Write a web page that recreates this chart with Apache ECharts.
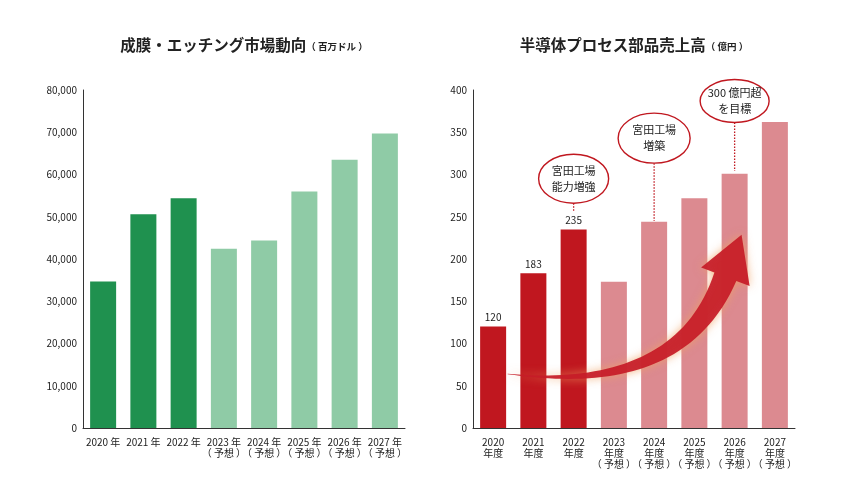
<!DOCTYPE html>
<html><head><meta charset="utf-8">
<script src="https://cdn.jsdelivr.net/npm/echarts@6/dist/echarts.min.js"></script>
<style>html,body{margin:0;padding:0;background:#fff}#c{width:854px;height:480px}</style>
</head><body><div id="c"></div>
<script>
// ---- data ----
const leftCategories = ['2020 年','2021 年','2022 年','2023 年\n（ 予想 ）','2024 年\n（ 予想 ）','2025 年\n（ 予想 ）','2026 年\n（ 予想 ）','2027 年\n（ 予想 ）'];
const marketValues = [34700, 50600, 54400, 42400, 44400, 56000, 63500, 69700];
const rightCategories = ['2020\n年度','2021\n年度','2022\n年度','2023\n年度\n（ 予想 ）','2024\n年度\n（ 予想 ）','2025\n年度\n（ 予想 ）','2026\n年度\n（ 予想 ）','2027\n年度\n（ 予想 ）'];
const salesValues = [120, 183, 235, 173, 244, 272, 301, 362];
const actualCount = 3;
const leftAxisMax = 80000, leftAxisStep = 10000;
const rightAxisMax = 400, rightAxisStep = 50;
const annotationTexts = ['宮田工場\n能力増強', '宮田工場\n増築', '300 億円超\nを目標'];

// ---- styling ----
const FONT = '"Noto Sans CJK JP","Noto Sans",sans-serif';
const C = { gDark:'#1f914f', gLight:'#8fcba6', rDark:'#c0171f', rLight:'#dc8a90', axis:'#333', text:'#222' };

const chart = echarts.init(document.getElementById('c'));
function yAxis(idx, max, step){
  return { type:'value', gridIndex:idx, min:0, max:max, interval:step,
    axisLine:{show:true, lineStyle:{color:C.axis, width:1}}, axisTick:{show:false}, splitLine:{show:false},
    axisLabel:{fontSize:10, color:C.text, margin:6, fontFamily:FONT} };
}
function xAxis(idx, cats){
  return { type:'category', gridIndex:idx, data:cats,
    axisLine:{show:true, lineStyle:{color:C.axis, width:1}}, axisTick:{show:false},
    axisLabel:{interval:0, fontSize:10, lineHeight:11, color:C.text, margin:9, fontFamily:FONT} };
}
chart.setOption({
  animation:false,
  textStyle:{fontFamily:FONT},
  title:[
    {text:'{a|成膜・エッチング市場動向}{b|（ 百万ドル ）}', left:244, top:37, textAlign:'center', padding:0,
     textStyle:{rich:{a:{fontSize:15.5, fontWeight:'bold', color:C.text, fontFamily:FONT}, b:{fontSize:9.5, color:C.text, fontFamily:FONT, padding:[3,0,0,0]}}}},
    {text:'{a|半導体プロセス部品売上高}{b|（ 億円 ）}', left:634, top:37, textAlign:'center', padding:0,
     textStyle:{rich:{a:{fontSize:15.5, fontWeight:'bold', color:C.text, fontFamily:FONT}, b:{fontSize:9.5, color:C.text, fontFamily:FONT, padding:[3,0,0,0]}}}}
  ],
  grid:[
    {left:83, top:90, width:322, height:338},
    {left:473, top:90, width:322, height:338}
  ],
  xAxis:[xAxis(0, leftCategories), xAxis(1, rightCategories)],
  yAxis:[yAxis(0, leftAxisMax, leftAxisStep), yAxis(1, rightAxisMax, rightAxisStep)],
  series:[
    {type:'bar', xAxisIndex:0, yAxisIndex:0, data:marketValues, barWidth:26,
     itemStyle:{color:p=>p.dataIndex<actualCount?C.gDark:C.gLight}},
    {type:'bar', xAxisIndex:1, yAxisIndex:1, data:salesValues, barWidth:26,
     itemStyle:{color:p=>p.dataIndex<actualCount?C.rDark:C.rLight},
     label:{show:true, position:'top', distance:4, fontSize:10, color:C.text, fontFamily:FONT,
       formatter:p=>p.dataIndex<actualCount?String(p.value):''}}
  ]
});

// ---- annotations (positioned through the right axis) ----
const ref = {seriesIndex:1};
const o = chart.convertToPixel(ref, [0, 0]);
const o1 = chart.convertToPixel(ref, [1, 100]);
const band = o1[0]-o[0], perVal = (o1[1]-o[1])/100;
const px = (i, v) => [o[0] + i*band, o[1] + v*perVal];

const ellipses = [
  {i:2, v:295, rx:35, ry:24.5, lineTo:256},
  {i:4, v:343, rx:36, ry:25, lineTo:245},
  {i:6, v:387, rx:34.5, ry:21.5, lineTo:304}
];
const g = [];
const A0 = px(0.36, 64), A1 = px(2.64, 51), A2 = px(4.88, 69), A3 = px(5.77, 179);
function bez(t){ const u=1-t; return [
  u*u*u*A0[0]+3*u*u*t*A1[0]+3*u*t*t*A2[0]+t*t*t*A3[0],
  u*u*u*A0[1]+3*u*u*t*A1[1]+3*u*t*t*A2[1]+t*t*t*A3[1]]; }
function dbez(t){ const u=1-t; return [
  3*u*u*(A1[0]-A0[0])+6*u*t*(A2[0]-A1[0])+3*t*t*(A3[0]-A2[0]),
  3*u*u*(A1[1]-A0[1])+6*u*t*(A2[1]-A1[1])+3*t*t*(A3[1]-A2[1])]; }
const L=[], R=[]; const N=40;
for(let k=0;k<=N;k++){ const t=k/N; const p=bez(t), d=dbez(t); const len=Math.hypot(d[0],d[1]);
  const n=[-d[1]/len, d[0]/len]; const w=(0.5+23*Math.pow(t,1.2))/2;
  L.push([p[0]+n[0]*w, p[1]+n[1]*w]); R.push([p[0]-n[0]*w, p[1]-n[1]*w]); }
const dE=dbez(1), lE=Math.hypot(dE[0],dE[1]); const dn=[dE[0]/lE, dE[1]/lE], nn=[-dn[1], dn[0]];
const headPts = [[A3[0]+nn[0]*26, A3[1]+nn[1]*26],[A3[0]+dn[0]*45, A3[1]+dn[1]*45],[A3[0]-nn[0]*26, A3[1]-nn[1]*26]];
const arrowPts = L.concat(headPts).concat(R.reverse());
g.push({type:'polygon', z:100, shape:{points:arrowPts},
  style:{fill:'rgba(198,28,40,0.93)', shadowBlur:10, shadowColor:'rgba(240,160,100,0.85)'}});

ellipses.forEach((e, k) => {
  const c = px(e.i, e.v);
  const end = px(e.i, e.lineTo);
  g.push({type:'line', z:100, shape:{x1:c[0], y1:c[1]+e.ry, x2:c[0], y2:end[1]},
    style:{stroke:C.rDark, lineWidth:1.3, lineDash:[1.5,1.5]}});
  g.push({type:'ellipse', z:101, shape:{cx:c[0], cy:c[1], rx:e.rx, ry:e.ry},
    style:{fill:'#fff', stroke:C.rDark, lineWidth:1.4}});
  g.push({type:'text', z:102, x:c[0], y:c[1],
    style:{text:annotationTexts[k], fill:C.text, font:'11px '+FONT, fontSize:11, fontFamily:FONT,
      align:'center', verticalAlign:'middle', textAlign:'center', textVerticalAlign:'middle', lineHeight:16}});
});
chart.setOption({graphic:g});
</script></body></html>
